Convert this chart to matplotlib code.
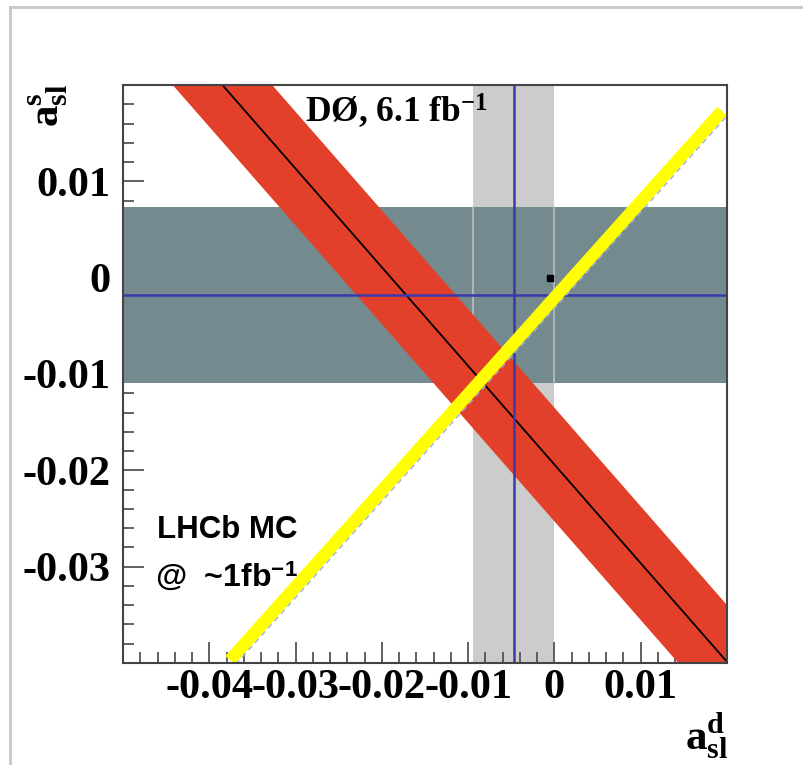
import numpy as np
import matplotlib.pyplot as plt
from matplotlib.lines import Line2D
from matplotlib.ticker import MultipleLocator

plt.rcParams['mathtext.fontset'] = 'custom'
plt.rcParams['mathtext.rm'] = 'Liberation Serif:bold'
plt.rcParams['mathtext.bf'] = 'Liberation Serif:bold'
plt.rcParams['mathtext.it'] = 'Liberation Serif:bold'
plt.rcParams['mathtext.sf'] = 'Liberation Sans:bold'

# axis ranges and ticks
x_range = [-0.05, 0.02]
y_range = [-0.04, 0.02]
x_ticks = [-0.04, -0.03, -0.02, -0.01, 0, 0.01]
x_ticklabels = ['-0.04', '-0.03', '-0.02', '-0.01', '0', '0.01']
y_ticks = [-0.03, -0.02, -0.01, 0, 0.01]
y_ticklabels = ['-0.03', '-0.02', '-0.01', '0', '0.01']

# D0 results: [central, error]
asl_d = [-0.0047, 0.0047]
asl_s = [-0.0018, 0.0091]
# dimuon band: a_s = intercept + slope*a_d +- err
dimuon = [-0.0194, -1.024, 0.0059]
# SM point
sm_point = [-0.0005, 0.0]
# LHCb MC expectation line
lhcb_x = [-0.0376, 0.0194]
lhcb_y = [-0.0397, 0.0173]
lhcb_dash = [-0.0032, 1.0]   # intercept, slope

W, H = 804, 765
fig = plt.figure(figsize=(W/100, H/100), dpi=100)
ax = fig.add_axes([123/W, 1-663/H, (727-123)/W, (663-85)/H])
ax.set_xlim(x_range)
ax.set_ylim(y_range)

# bands
ax.axvspan(asl_d[0]-asl_d[1], asl_d[0]+asl_d[1], color='#cccccc', lw=0, zorder=1)
ax.axhspan(asl_s[0]-asl_s[1], asl_s[0]+asl_s[1], color='#748a8f', lw=0, zorder=2)
for xe in [asl_d[0]-asl_d[1], asl_d[0]+asl_d[1]]:
    ax.plot([xe, xe], [asl_s[0]-asl_s[1], asl_s[0]+asl_s[1]], color='#b4c0c2', lw=1.2, zorder=2.5)

xs = np.array(x_range)
yc = dimuon[0] + dimuon[1]*xs
ax.fill_between(xs, yc-dimuon[2], yc+dimuon[2], color='#e2402b', lw=0, zorder=3)
ax.plot(xs, yc, color='k', lw=1.3, zorder=4)

ax.axvline(asl_d[0], color='#3a3aaa', lw=1.8, zorder=5)
ax.axhline(asl_s[0], color='#3a3aaa', lw=1.8, zorder=5)
ax.plot(sm_point[0], sm_point[1], marker='s', ms=5, color='k', zorder=6)

ax.plot(xs, lhcb_dash[0] + lhcb_dash[1]*xs, ls=(0, (4, 3)), color='#9ab0d8', lw=1, zorder=6)
ax.plot(lhcb_x, lhcb_y, color='#ffff00', lw=9, solid_capstyle='butt', zorder=7)

# axes style
for s in ax.spines.values():
    s.set_color('#444444')
    s.set_linewidth(1.5)
    s.set_zorder(10)
ax.set_xticks(x_ticks)
ax.set_yticks(y_ticks)
ax.xaxis.set_minor_locator(MultipleLocator(0.002))
ax.yaxis.set_minor_locator(MultipleLocator(0.002))
ax.tick_params(which='major', direction='in', length=15, width=1.3, color='#555555')
ax.tick_params(which='minor', direction='in', length=8, width=1.3, color='#555555')
ax.tick_params(axis='x', pad=4)
ax.tick_params(axis='y', pad=9)
ax.set_xticklabels(x_ticklabels, fontfamily='Liberation Serif', fontweight='bold', fontsize=30.5)
ax.set_yticklabels(y_ticklabels, fontfamily='Liberation Serif', fontweight='bold', fontsize=30.5)

# labels and texts
fig.text(48/W, 1-84/H, r'$\mathrm{a}^{\mathrm{s}}_{\mathrm{sl}}$', rotation=90,
         ha='center', va='top', fontsize=31)
fig.text(728/W, 1-750/H, r'$\mathrm{a}^{\mathrm{d}}_{\mathrm{sl}}$', ha='right',
         va='baseline', fontsize=31)
fig.text(305/W, 1-122/H, r'DØ, 6.1 fb$^{\mathrm{-1}}$', family='Liberation Serif',
         weight='bold', fontsize=25.5, va='baseline', zorder=20)
fig.text(157/W, 1-538/H, 'LHCb MC', family='Liberation Sans', weight='bold',
         fontsize=22.5, va='baseline')
fig.text(155/W, 1-587/H, r'@  ~1fb$^{\mathsf{-1}}$', family='Liberation Sans',
         weight='bold', fontsize=23, va='baseline')

# outer frame
fig.add_artist(Line2D([10/W, 1], [1-7/H, 1-7/H], color='#c8c8c8', lw=2))
fig.add_artist(Line2D([10/W, 10/W], [0, 1-7/H], color='#c8c8c8', lw=2))

fig.savefig('out.png', dpi=100)
